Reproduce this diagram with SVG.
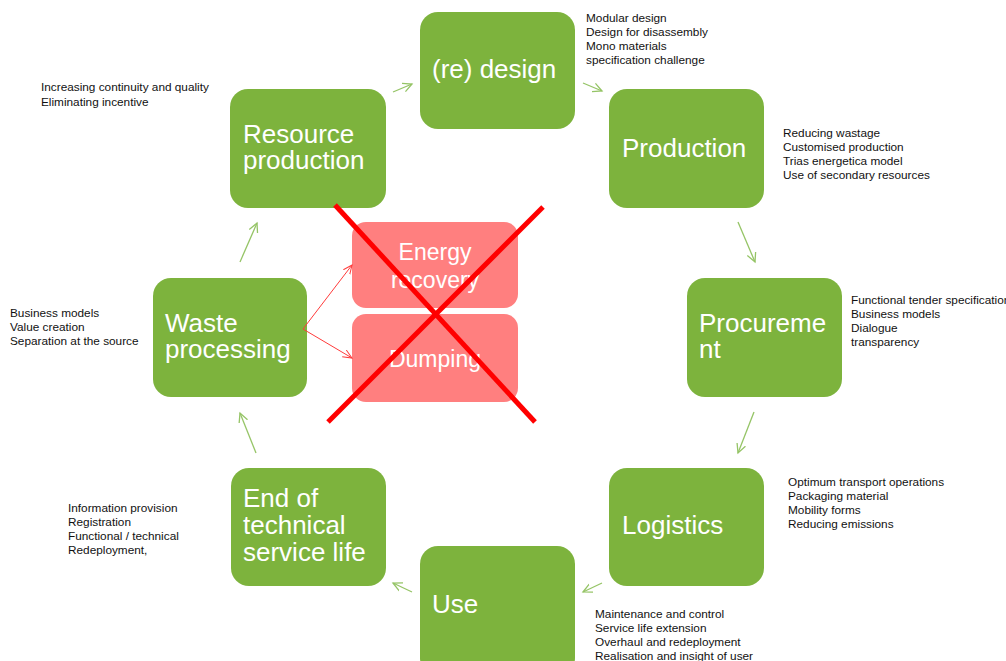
<svg xmlns="http://www.w3.org/2000/svg" width="1006" height="661" viewBox="0 0 1006 661">
<defs>
<style>
.node{fill:#7db33d;}
.nt{font-family:"Liberation Sans",Arial,sans-serif;font-size:26px;fill:#ffffff;}
.lst{font-family:"Liberation Sans",Arial,sans-serif;font-size:11.8px;fill:#111111;}
.red{fill:#ff7f7f;}
.rt{font-family:"Liberation Sans",Arial,sans-serif;font-size:23px;fill:#ffffff;text-anchor:middle;}
.ga{stroke:#95c466;stroke-width:1.3;fill:none;marker-end:url(#ag);}
.ra{stroke:#ff3b3b;stroke-width:1;fill:none;marker-end:url(#ar);}
.x{stroke:#ff0000;stroke-width:5;stroke-linecap:butt;}
</style>
<marker id="ag" markerUnits="userSpaceOnUse" markerWidth="12" markerHeight="12" refX="9" refY="5" orient="auto" viewBox="0 0 12 10">
<path d="M0,0.5 L9,5 L0,9.5" fill="none" stroke="#95c466" stroke-width="1.3"/>
</marker>
<marker id="ar" markerUnits="userSpaceOnUse" markerWidth="12" markerHeight="12" refX="9" refY="5" orient="auto" viewBox="0 0 12 10">
<path d="M0,1 L9,5 L0,9" fill="none" stroke="#ff3b3b" stroke-width="1"/>
</marker>
</defs>
<rect width="1006" height="661" fill="#ffffff"/>

<g id="node-redesign">
<rect class="node" x="420" y="12" width="155" height="117" rx="18"/>
<text class="nt" x="432" y="78">(re) design</text>
<text class="lst" x="586" y="22">Modular design</text>
<text class="lst" x="586" y="36">Design for disassembly</text>
<text class="lst" x="586" y="50">Mono materials</text>
<text class="lst" x="586" y="64">specification challenge</text>
</g>

<g id="node-production">
<rect class="node" x="609" y="89" width="155" height="119" rx="18"/>
<text class="nt" x="622" y="157">Production</text>
<text class="lst" x="783" y="137">Reducing wastage</text>
<text class="lst" x="783" y="151">Customised production</text>
<text class="lst" x="783" y="165">Trias energetica model</text>
<text class="lst" x="783" y="179">Use of secondary resources</text>
</g>

<g id="node-procurement">
<rect class="node" x="687" y="278" width="155" height="119" rx="18"/>
<text class="nt" x="699" y="332">Procureme</text>
<text class="nt" x="699" y="358">nt</text>
<text class="lst" x="851" y="304">Functional tender specification</text>
<text class="lst" x="851" y="318">Business models</text>
<text class="lst" x="851" y="332">Dialogue</text>
<text class="lst" x="851" y="346">transparency</text>
</g>

<g id="node-logistics">
<rect class="node" x="609" y="468" width="155" height="118" rx="18"/>
<text class="nt" x="622" y="534">Logistics</text>
<text class="lst" x="788" y="486">Optimum transport operations</text>
<text class="lst" x="788" y="500">Packaging material</text>
<text class="lst" x="788" y="514">Mobility forms</text>
<text class="lst" x="788" y="528">Reducing emissions</text>
</g>

<g id="node-use">
<rect class="node" x="420" y="546" width="155" height="130" rx="18"/>
<text class="nt" x="432" y="613">Use</text>
<text class="lst" x="595" y="618">Maintenance and control</text>
<text class="lst" x="595" y="632">Service life extension</text>
<text class="lst" x="595" y="646">Overhaul  and redeployment</text>
<text class="lst" x="595" y="660">Realisation and insight of user</text>
</g>

<g id="node-end">
<rect class="node" x="231" y="468" width="155" height="118" rx="18"/>
<text class="nt" x="243" y="507">End of</text>
<text class="nt" x="243" y="534">technical</text>
<text class="nt" x="243" y="561">service life</text>
<text class="lst" x="68" y="512">Information provision</text>
<text class="lst" x="68" y="526">Registration</text>
<text class="lst" x="68" y="540">Functional / technical</text>
<text class="lst" x="68" y="554">Redeployment,</text>
</g>

<g id="node-waste">
<rect class="node" x="153" y="278" width="154" height="119" rx="18"/>
<text class="nt" x="165" y="332">Waste</text>
<text class="nt" x="165" y="358">processing</text>
<text class="lst" x="10" y="317">Business models</text>
<text class="lst" x="10" y="331">Value creation</text>
<text class="lst" x="10" y="345">Separation at the source</text>
</g>

<g id="node-resource">
<rect class="node" x="230" y="89" width="156" height="119" rx="18"/>
<text class="nt" x="243" y="143">Resource</text>
<text class="nt" x="243" y="169">production</text>
<text class="lst" x="41" y="91">Increasing continuity and quality</text>
<text class="lst" x="41" y="106">Eliminating incentive</text>
</g>

<g id="node-energy">
<rect class="red" x="352" y="222" width="166" height="86" rx="14"/>
<text class="rt" x="435" y="260">Energy</text>
<text class="rt" x="435" y="288">recovery</text>
</g>

<g id="node-dumping">
<rect class="red" x="352" y="314" width="166" height="88" rx="14"/>
<text class="rt" x="435" y="367">Dumping</text>
</g>

<g id="connectors">
<line class="ga" x1="393" y1="92" x2="412" y2="84"/>
<line class="ga" x1="583" y1="83" x2="602" y2="91"/>
<line class="ga" x1="738" y1="222" x2="755" y2="262"/>
<line class="ga" x1="754" y1="412" x2="738" y2="453"/>
<line class="ga" x1="602" y1="583" x2="583" y2="592"/>
<line class="ga" x1="412" y1="592" x2="393" y2="583"/>
<line class="ga" x1="256" y1="453" x2="240" y2="413"/>
<line class="ga" x1="240" y1="262" x2="257" y2="223"/>
<line class="ra" x1="303" y1="329" x2="352" y2="265"/>
<line class="ra" x1="303" y1="329" x2="352" y2="358"/>
</g>

<g id="cross">
<line class="x" x1="335" y1="205" x2="535" y2="422"/>
<line class="x" x1="543" y1="207" x2="328" y2="422"/>
</g>
</svg>
